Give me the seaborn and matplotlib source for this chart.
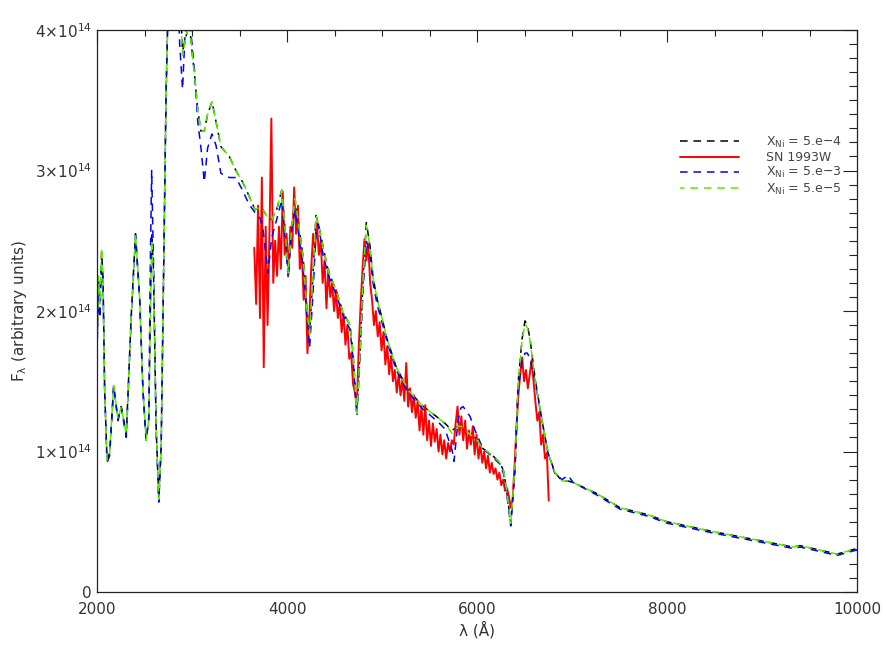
#!/usr/bin/env python3
import numpy as np
import pandas as pd
import matplotlib as mpl
mpl.use("Agg")
from matplotlib import pyplot as plt
from matplotlib.ticker import MultipleLocator, FuncFormatter
import seaborn as sns

sns.set_theme(style="white")
plt.rcParams['font.family'] = ['DejaVu Sans']
plt.rcParams['mathtext.fontset'] = 'dejavusans'
plt.rcParams['mathtext.default'] = 'regular'

# model spectra, flux in units of 1e14
model_wave = [2000, 2015, 2030, 2048, 2063, 2080, 2105, 2133, 2175, 2220,
              2255, 2308, 2360, 2405, 2448, 2483, 2517, 2545, 2560, 2575,
              2594, 2622, 2650, 2675, 2700, 2727, 2745, 2790, 2840, 2870,
              2900, 2935, 2970, 3000, 3025, 3060, 3094, 3129, 3164, 3210,
              3252, 3304, 3392, 3462, 3531, 3600, 3663, 3716, 3747, 3800,
              3838, 3891, 3944, 3975, 4012, 4050, 4084, 4116, 4170, 4210,
              4238, 4274, 4305, 4330, 4379, 4432, 4526, 4589, 4663, 4695,
              4735, 4768, 4800, 4835, 4874, 4905, 4950, 5000, 5053, 5150,
              5274, 5418, 5590, 5663, 5737, 5758, 5800, 5830, 5853, 5926,
              5979, 6063, 6150, 6242, 6280, 6316, 6355, 6400, 6432, 6474,
              6505, 6530, 6558, 6611, 6684, 6747, 6821, 6895, 6958, 7010,
              7263, 7505, 7800, 8000, 8484, 8947, 9326, 9400, 9600, 9790,
              10000]
flux_ni_5e5 = [1.75, 2.25, 2.05, 2.45, 2.24, 1.44, 0.94, 0.99, 1.47, 1.23,
               1.32, 1.12, 1.97, 2.55, 2.10, 1.44, 1.08, 1.23, 1.90, 2.50,
               2.24, 1.18, 0.66, 1.04, 2.24, 3.56, 4.08, 4.80, 4.60, 4.30,
               3.82, 3.95, 4.05, 3.85, 3.69, 3.43, 3.28, 3.28, 3.40, 3.49,
               3.35, 3.17, 3.10, 3.00, 2.92, 2.82, 2.72, 2.74, 2.72, 2.66,
               2.65, 2.72, 2.86, 2.62, 2.27, 2.60, 2.80, 2.65, 2.38, 2.00,
               1.84, 2.27, 2.68, 2.62, 2.46, 2.29, 2.13, 1.99, 1.90, 1.70,
               1.27, 1.70, 2.22, 2.61, 2.46, 2.24, 2.08, 1.95, 1.80, 1.60,
               1.44, 1.33, 1.24, 1.20, 1.13, 1.14, 1.18, 1.18, 1.17, 1.12,
               1.10, 1.02, 0.98, 0.92, 0.86, 0.70, 0.49, 0.89, 1.49, 1.79,
               1.91, 1.88, 1.79, 1.51, 1.22, 0.99, 0.85, 0.79, 0.79, 0.78,
               0.70, 0.60, 0.55, 0.50, 0.43, 0.37, 0.32, 0.33, 0.30, 0.27,
               0.31]
flux_ni_5e4 = [1.75, 2.22, 2.05, 2.42, 2.24, 1.44, 0.94, 0.99, 1.47, 1.23,
               1.32, 1.12, 1.97, 2.55, 2.10, 1.44, 1.08, 1.23, 1.95, 2.55,
               2.30, 1.18, 0.66, 1.04, 2.24, 3.56, 4.08, 4.80, 4.60, 4.30,
               3.85, 3.95, 4.05, 3.85, 3.69, 3.43, 3.28, 3.28, 3.40, 3.49,
               3.35, 3.17, 3.10, 3.00, 2.92, 2.82, 2.72, 2.74, 2.72, 2.66,
               2.65, 2.72, 2.86, 2.62, 2.27, 2.60, 2.80, 2.65, 2.38, 2.00,
               1.84, 2.27, 2.68, 2.62, 2.46, 2.29, 2.13, 1.99, 1.90, 1.70,
               1.27, 1.70, 2.22, 2.63, 2.46, 2.24, 2.08, 1.95, 1.80, 1.60,
               1.44, 1.33, 1.24, 1.20, 1.15, 1.16, 1.18, 1.18, 1.17, 1.12,
               1.10, 1.02, 0.98, 0.92, 0.86, 0.70, 0.49, 0.89, 1.49, 1.80,
               1.93, 1.90, 1.80, 1.52, 1.22, 0.99, 0.85, 0.79, 0.79, 0.78,
               0.70, 0.60, 0.55, 0.50, 0.43, 0.37, 0.32, 0.33, 0.30, 0.27,
               0.31]
flux_ni_5e3 = [1.70, 2.15, 1.95, 2.35, 2.20, 1.44, 0.92, 0.97, 1.46, 1.22,
               1.31, 1.10, 1.95, 2.53, 2.10, 1.44, 1.08, 1.25, 2.30, 3.00,
               2.35, 1.15, 0.64, 1.02, 2.24, 3.56, 4.08, 4.80, 4.50, 3.90,
               3.58, 4.10, 4.10, 3.90, 3.72, 3.35, 3.16, 2.92, 3.16, 3.26,
               3.18, 2.98, 2.95, 2.95, 2.86, 2.76, 2.70, 2.66, 2.58, 2.27,
               2.52, 2.65, 2.79, 2.55, 2.24, 2.58, 2.72, 2.58, 2.30, 1.95,
               1.74, 2.13, 2.58, 2.62, 2.40, 2.26, 2.10, 1.97, 1.87, 1.66,
               1.25, 1.68, 2.15, 2.50, 2.40, 2.20, 2.04, 1.92, 1.78, 1.58,
               1.42, 1.31, 1.21, 1.16, 1.01, 0.93, 1.22, 1.31, 1.32, 1.25,
               1.15, 1.02, 0.97, 0.91, 0.84, 0.68, 0.47, 0.87, 1.45, 1.64,
               1.70, 1.70, 1.66, 1.50, 1.22, 0.99, 0.84, 0.80, 0.83, 0.78,
               0.69, 0.59, 0.54, 0.49, 0.42, 0.36, 0.31, 0.32, 0.29, 0.26,
               0.30]

# observed spectrum SN 1993W
sn_wave = [3655, 3675, 3695, 3715, 3735, 3755, 3775, 3795, 3815, 3835,
           3855, 3875, 3895, 3915, 3935, 3955, 3975, 3995, 4015, 4035,
           4055, 4075, 4095, 4115, 4135, 4155, 4175, 4195, 4215, 4235,
           4255, 4275, 4295, 4315, 4335, 4355, 4375, 4395, 4415, 4435,
           4455, 4475, 4495, 4515, 4535, 4555, 4575, 4595, 4615, 4635,
           4655, 4675, 4695, 4715, 4735, 4755, 4775, 4795, 4815, 4835,
           4855, 4875, 4895, 4915, 4935, 4955, 4975, 4995, 5015, 5035,
           5055, 5075, 5095, 5115, 5135, 5155, 5175, 5195, 5215, 5235,
           5255, 5275, 5295, 5315, 5335, 5355, 5375, 5395, 5415, 5435,
           5455, 5475, 5495, 5515, 5535, 5555, 5575, 5595, 5615, 5635,
           5655, 5675, 5695, 5715, 5735, 5755, 5775, 5795, 5815, 5835,
           5855, 5875, 5895, 5915, 5935, 5955, 5975, 5995, 6015, 6035,
           6055, 6075, 6095, 6115, 6135, 6155, 6175, 6195, 6215, 6235,
           6255, 6275, 6295, 6315, 6335, 6355, 6375, 6395, 6415, 6435,
           6455, 6475, 6495, 6515, 6535, 6555, 6575, 6595, 6615, 6635,
           6655, 6675, 6695, 6715, 6735, 6755]
sn_flux = [2.45, 2.05, 2.75, 1.95, 2.95, 1.60, 2.60, 1.90, 2.55, 3.37,
           2.20, 2.50, 2.25, 2.60, 2.30, 2.85, 2.40, 2.55, 2.26, 2.60,
           2.45, 2.88, 2.55, 2.75, 2.30, 2.45, 2.08, 2.25, 1.70, 1.95,
           2.31, 2.55, 2.45, 2.63, 2.40, 2.50, 2.20, 2.36, 2.02, 2.30,
           2.10, 2.20, 2.00, 2.15, 1.95, 2.05, 1.85, 1.98, 1.76, 1.90,
           1.66, 1.70, 1.48, 1.42, 1.32, 1.74, 2.05, 2.30, 2.51, 2.36,
           2.48, 2.20, 2.08, 1.90, 2.00, 1.82, 1.92, 1.72, 1.85, 1.62,
           1.75, 1.55, 1.68, 1.50, 1.58, 1.42, 1.55, 1.40, 1.52, 1.36,
           1.63, 1.32, 1.45, 1.28, 1.40, 1.24, 1.36, 1.15, 1.32, 1.12,
           1.33, 1.08, 1.22, 1.04, 1.20, 1.07, 1.16, 1.00, 1.12, 0.98,
           1.08, 0.95, 1.06, 1.00, 1.08, 1.05, 1.20, 1.32, 1.12, 1.25,
           1.08, 1.22, 1.02, 1.15, 1.05, 1.18, 0.98, 1.12, 0.95, 1.05,
           0.92, 1.00, 0.88, 0.97, 0.85, 0.92, 0.84, 0.88, 0.80, 0.85,
           0.76, 0.80, 0.72, 0.74, 0.68, 0.60, 0.66, 0.90, 1.17, 1.40,
           1.55, 1.67, 1.50, 1.58, 1.45, 1.55, 1.65, 1.50, 1.35, 1.22,
           1.28, 1.05, 1.12, 0.95, 0.99, 0.65]

labels = [r'X$_{Ni}$ = 5.e$-$4', 'SN 1993W', r'X$_{Ni}$ = 5.e$-$3', r'X$_{Ni}$ = 5.e$-$5']

models = pd.DataFrame({'wave': model_wave,
                       'm5e4': np.array(flux_ni_5e4) * 1e14,
                       'm5e3': np.array(flux_ni_5e3) * 1e14,
                       'm5e5': np.array(flux_ni_5e5) * 1e14})
obs = pd.DataFrame({'wave': sn_wave, 'flux': np.array(sn_flux) * 1e14})

fig = plt.figure(figsize=(8.87, 6.54), dpi=100)
ax = fig.add_axes([0.1094, 0.0948, 0.8568, 0.8593])

sns.lineplot(data=models, x='wave', y='m5e4', ax=ax, color='black', lw=1.1,
             linestyle=(0, (5.0, 3.8)), estimator=None, label=labels[0])
sns.lineplot(data=obs, x='wave', y='flux', ax=ax, color='#ff0000', lw=1.4,
             estimator=None, label=labels[1])
sns.lineplot(data=models, x='wave', y='m5e3', ax=ax, color='#0000ff', lw=1.1,
             linestyle=(0, (5.0, 3.8)), estimator=None, label=labels[2])
sns.lineplot(data=models, x='wave', y='m5e5', ax=ax, color='#55ee00', lw=1.1,
             linestyle=(2.0, (5.0, 3.8)), estimator=None, label=labels[3])

ax.set_xlim(2000, 10000)
ax.set_ylim(0, 4e14)
ax.xaxis.set_major_locator(MultipleLocator(2000))
ax.xaxis.set_minor_locator(MultipleLocator(500))
ax.yaxis.set_major_locator(MultipleLocator(1e14))
ax.yaxis.set_minor_locator(MultipleLocator(1e13))

def yfmt(v, pos):
    n = int(round(v / 1e14))
    return '0' if n == 0 else f'{n}×10$^{{14}}$'
ax.yaxis.set_major_formatter(FuncFormatter(yfmt))

for s in ax.spines.values():
    s.set_color('#222222')
    s.set_linewidth(0.9)
ax.tick_params(which='both', direction='in', top=True, right=True,
               colors='#222222', labelcolor='#333333', width=0.8, labelsize=11)
ax.tick_params(axis='x', which='major', length=8.5, pad=7)
ax.tick_params(axis='x', which='minor', length=4.5)
ax.tick_params(axis='y', which='major', length=10, pad=4)
ax.tick_params(axis='y', which='minor', length=5.5)

ax.set_xlabel('λ (Å)', fontsize=11, color='#333333')
ax.set_ylabel(r'F$_{\lambda}$ (arbitrary units)', fontsize=11, color='#333333')
ax.xaxis.set_label_coords(0.5, -0.052)
ax.yaxis.set_label_coords(-0.089, 0.5)

leg = ax.legend(loc='upper left', bbox_to_anchor=(0.767, 0.814), frameon=False,
                fontsize=9, handlelength=4.7, handletextpad=2.2,
                labelspacing=0.1, borderpad=0, borderaxespad=0)
for t in leg.get_texts():
    t.set_color('#444444')

fig.savefig('out.png', dpi=100)
